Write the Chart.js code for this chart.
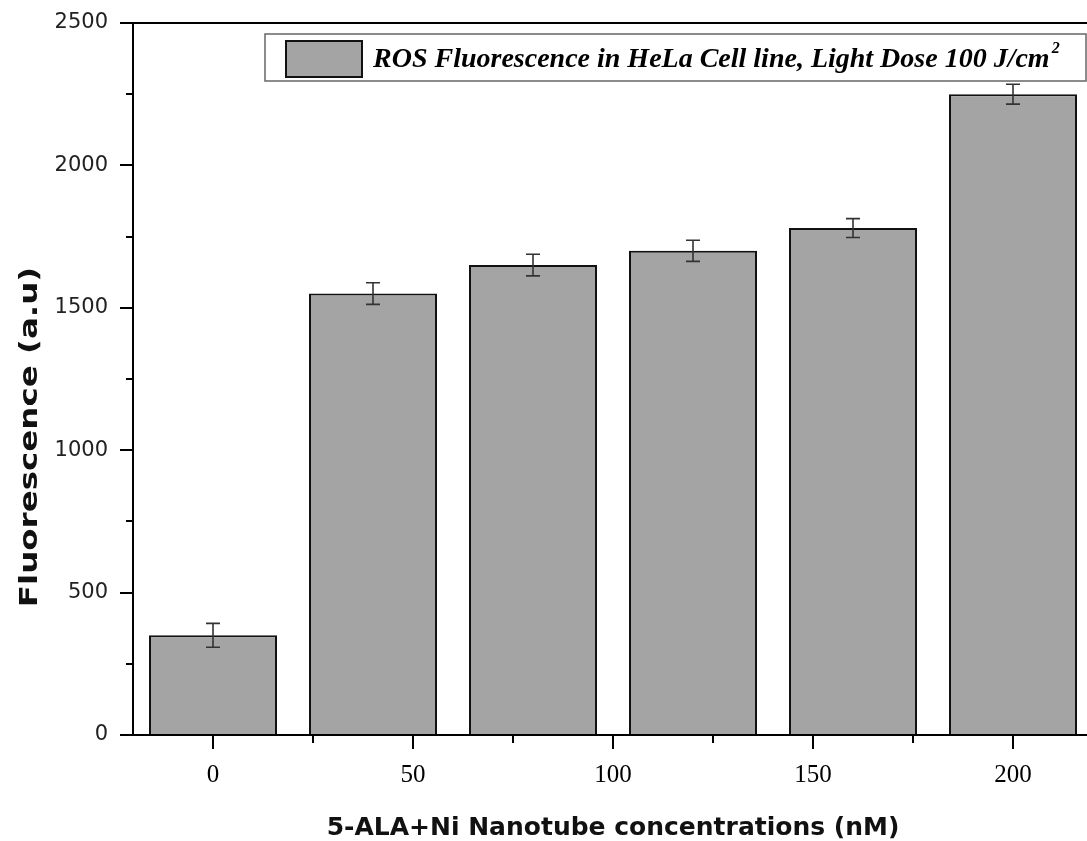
<!DOCTYPE html>
<html>
<head>
<meta charset="utf-8">
<script src="https://cdn.jsdelivr.net/npm/chart.js@4"></script>
<style>
  html, body { margin: 0; padding: 0; overflow: hidden; background: #fff; }
  #wrap { width: 1100px; height: 841px; }
</style>
</head>
<body>
<div id="wrap"><canvas id="stage"></canvas></div>
<script>
// data
var concentrations = [0, 40, 80, 120, 160, 200];
var fluorescence = [350, 1550, 1650, 1700, 1780, 2250];
var errors = [42, 38, 38, 37, 33, 35];

// ticks
var xTicks = [0, 50, 100, 150, 200];
var xMinorTicks = [25, 75, 125, 175];
var yTicks = [0, 500, 1000, 1500, 2000, 2500];
var yMinorTicks = [250, 750, 1250, 1750, 2250];

var legendLabel = 'ROS Fluorescence in HeLa Cell line, Light Dose 100 J/cm';
var legendSup = '2';
var xTitle = '5-ALA+Ni Nanotube concentrations (nM)';
var yTitle = 'Fluorescence (a.u)';

var barFill = '#a4a4a4';

// axes, tick marks, error bars, legend and y title
var extras = {
    id: 'extras',
    afterDatasetsDraw: function(chart) {
        var ctx = chart.ctx, x = chart.scales.x, y = chart.scales.y;
        ctx.save();
        ctx.strokeStyle = '#333';
        ctx.lineWidth = 1.6;
        for (var i = 0; i < fluorescence.length; i++) {
            var px = x.getPixelForValue(concentrations[i]);
            var top = y.getPixelForValue(fluorescence[i] + errors[i]);
            var bot = y.getPixelForValue(fluorescence[i] - errors[i]);
            ctx.beginPath();
            ctx.moveTo(px, top); ctx.lineTo(px, bot);
            ctx.moveTo(px - 7, top); ctx.lineTo(px + 7, top);
            ctx.moveTo(px - 7, bot); ctx.lineTo(px + 7, bot);
            ctx.stroke();
        }
        ctx.restore();
    },
    afterDraw: function(chart) {
        var ctx = chart.ctx, x = chart.scales.x, y = chart.scales.y;
        var a = chart.chartArea;
        ctx.save();
        ctx.strokeStyle = '#000';
        ctx.lineWidth = 2;
        ctx.beginPath();
        // frame
        ctx.moveTo(a.left, a.top); ctx.lineTo(a.right, a.top);
        ctx.moveTo(a.left, a.top); ctx.lineTo(a.left, a.bottom);
        ctx.moveTo(a.left - 13, a.bottom); ctx.lineTo(a.right, a.bottom);
        // y ticks
        yTicks.forEach(function(v) {
            var py = Math.round(y.getPixelForValue(v));
            ctx.moveTo(a.left - 13, py); ctx.lineTo(a.left, py);
        });
        yMinorTicks.forEach(function(v) {
            var py = Math.round(y.getPixelForValue(v));
            ctx.moveTo(a.left - 7, py); ctx.lineTo(a.left, py);
        });
        // x ticks
        xTicks.forEach(function(v) {
            var px = Math.round(x.getPixelForValue(v));
            ctx.moveTo(px, a.bottom); ctx.lineTo(px, a.bottom + 14);
        });
        xMinorTicks.forEach(function(v) {
            var px = Math.round(x.getPixelForValue(v));
            ctx.moveTo(px, a.bottom); ctx.lineTo(px, a.bottom + 8);
        });
        ctx.stroke();

        // legend box
        var lx = a.left + 132, ly = a.top + 11, lw = 821, lh = 47;
        ctx.fillStyle = '#fff';
        ctx.fillRect(lx, ly, lw, lh);
        ctx.strokeStyle = '#666';
        ctx.lineWidth = 1.5;
        ctx.strokeRect(lx, ly, lw, lh);
        ctx.fillStyle = barFill;
        ctx.fillRect(lx + 21, ly + 7, 76, 36);
        ctx.strokeStyle = '#111';
        ctx.lineWidth = 2;
        ctx.strokeRect(lx + 21, ly + 7, 76, 36);
        ctx.fillStyle = '#000';
        ctx.textBaseline = 'alphabetic';
        ctx.textAlign = 'left';
        ctx.font = 'bold italic 28px "Liberation Serif"';
        ctx.fillText(legendLabel, lx + 108, ly + 33);
        var w = ctx.measureText(legendLabel).width;
        ctx.font = 'bold italic 16px "Liberation Serif"';
        ctx.fillText(legendSup, lx + 108 + w + 2, ly + 19);

        // y axis title
        ctx.translate(30, (a.top + a.bottom) / 2 + 58);
        ctx.rotate(-Math.PI / 2);
        ctx.scale(1.3, 1);
        ctx.font = 'bold 25px "DejaVu Sans"';
        ctx.textAlign = 'center';
        ctx.textBaseline = 'middle';
        ctx.fillStyle = '#111';
        ctx.fillText(yTitle, 0, 0);
        ctx.restore();
    }
};

var mydata = {
    datasets: [{
        label: legendLabel,
        data: concentrations.map(function(c, i) { return { x: c, y: fluorescence[i] }; }),
        backgroundColor: barFill,
        borderColor: '#111',
        borderWidth: 2,
        borderSkipped: 'start',
        barPercentage: 0.8,
        categoryPercentage: 1.0
    }]
};

var options = {
    responsive: true,
    maintainAspectRatio: false,
    animation: false,
    devicePixelRatio: 1,
    layout: { padding: { top: 23, right: 7, left: 0, bottom: 0 } },
    plugins: {
        legend: { display: false },
        tooltip: { enabled: false }
    },
    scales: {
        x: {
            type: 'linear',
            offset: false,
            min: -20,
            max: 220,
            afterFit: function(s) { s.height = 106; s.paddingLeft = 0; s.paddingRight = 0; },
            afterBuildTicks: function(s) { s.ticks = xTicks.map(function(v) { return { value: v }; }); },
            grid: { display: false, drawTicks: false },
            border: { display: false },
            ticks: {
                padding: 25,
                color: '#000',
                callback: function(v) { return String(v); },
                font: { family: '"Liberation Serif"', size: 25 }
            },
            title: {
                display: true,
                text: xTitle,
                color: '#111',
                padding: { top: 0, bottom: 0 },
                font: { family: '"DejaVu Sans"', size: 25, weight: 'bold', lineHeight: 1.0 }
            }
        },
        y: {
            min: 0,
            max: 2500,
            afterFit: function(s) { s.width = 133; s.paddingTop = 0; s.paddingBottom = 0; },
            afterBuildTicks: function(s) { s.ticks = yTicks.map(function(v) { return { value: v }; }); },
            grid: { display: false, drawTicks: false },
            border: { display: false },
            ticks: {
                padding: 25,
                color: '#222',
                callback: function(v) { return String(v); },
                font: { family: '"DejaVu Sans"', size: 21 }
            }
        }
    }
};

var canvas = document.getElementById('stage');
var chart = new Chart(canvas, {
    type: 'bar',
    data: mydata,
    options: options,
    plugins: [extras]
});
</script>
</body>
</html>
